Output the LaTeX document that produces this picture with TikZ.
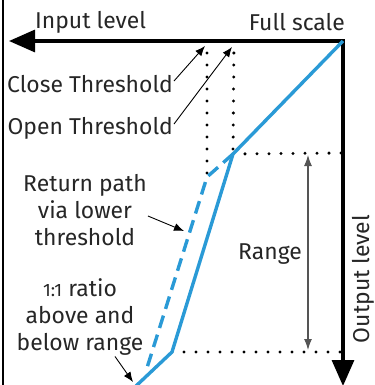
\documentclass[tikz,border=0pt]{standalone}
\usepackage{fontspec}
\setmainfont{Fira Sans}
\usepackage{tikz}
\usetikzlibrary{arrows.meta}
\definecolor{gate}{HTML}{2A9AD6}
\definecolor{rangegray}{HTML}{555555}

\begin{document}
\begin{tikzpicture}[
  x=1bp, y=-1bp,
  lbl/.style={inner sep=1bp, font=\fontsize{23}{27}\selectfont, text=black!85},
  axis/.style={line width=3.2bp, line join=miter, {Triangle[length=26bp,width=22bp]}-{Triangle[length=26bp,width=22bp]}},
  curve/.style={gate, line width=3.4bp, line join=round},
  retpath/.style={curve, dash pattern=on 13bp off 7bp},
  grid/.style={line width=3.3bp, line cap=round, dash pattern=on 0bp off 12bp},
  pointer/.style={-{Latex[length=10bp,width=8bp]}, line width=0.9bp},
  span/.style={{Latex[length=11bp,width=8bp]}-{Latex[length=11bp,width=8bp]}, rangegray, line width=1.1bp}
]
  \useasboundingbox (0,0) rectangle (375,385);

  % corners of the transfer curve
  \coordinate (fs) at (343,41);
  \coordinate (inTip) at (9,41);
  \coordinate (outTip) at (343,386);
  \coordinate (ct) at (207,41);
  \coordinate (ot) at (234,41);
  \coordinate (ok) at (233,154);
  \coordinate (ck) at (207,177);
  \coordinate (lk) at (172,352);
  \coordinate (dj) at (146,371);
  \coordinate (b0) at (136,386);
  \coordinate (rt) at (341,153);
  \coordinate (rb) at (341,352);
  \coordinate (rangeTop) at (308,155);
  \coordinate (rangeBot) at (308,350);
  \coordinate (retTip) at (184,231);

  \node[lbl, anchor=west] (input) at (34,22) {Input level};
  \node[lbl, anchor=east] (full) at (346,22) {Full scale};
  \node[lbl, anchor=east] (close) at (174,84) {Close Threshold};
  \node[lbl, anchor=east] (open) at (174,128) {Open Threshold};
  \node[lbl, align=center] (ret) at (85,210) {Return path\\via lower\\threshold};
  \node[lbl, align=center] (ratio) at (80,317) {{\fontsize{18}{20}\selectfont 1:1} ratio\\above and\\below range};
  \node[lbl] (range) at (270,254) {Range};
  \node[lbl, rotate=90] (out) at (363,279) {Output level};

  % frame and axes
  \draw[line width=2bp] (3,0) -- (3,385);
  \draw[axis] (inTip) -- (fs) -- (outTip);

  % dotted guides
  \draw[grid] (ct) -- (ck);
  \draw[grid] (ot) -- (ok);
  \draw[grid] (ok) -- (rt);
  \draw[grid] (lk) -- (rb);

  % transfer curve
  \draw[curve] (fs) -- (ok) -- (lk) -- (b0);
  \draw[retpath] (ok) -- (ck) -- (dj);

  \draw[span] (rangeTop) -- (rangeBot);

  % callouts
  \draw[pointer] ([yshift=3bp]close.east) -- ([xshift=-2bp,yshift=-5bp]ct);
  \draw[pointer] ([yshift=4bp]open.east) -- ([xshift=-2bp,yshift=-6bp]ot);
  \draw[pointer] ([yshift=-6bp]ret.east) -- (retTip);
  \draw[pointer] ([xshift=35bp]ratio.south) -- ([xshift=-3bp,yshift=4bp]b0);
\end{tikzpicture}
\end{document}
